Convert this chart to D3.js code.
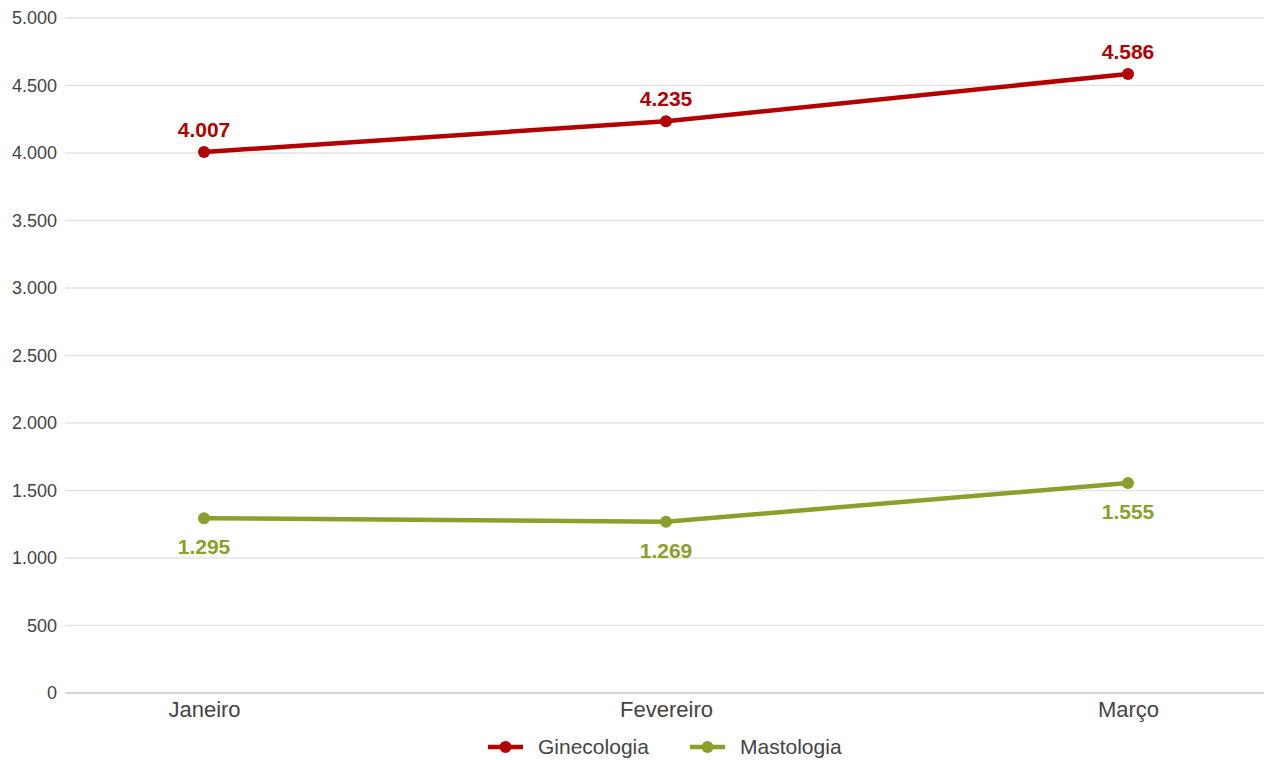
<!DOCTYPE html>
<html>
<head>
<meta charset="utf-8">
<script src="https://cdn.jsdelivr.net/npm/d3@7"></script>
<style>
  html, body { margin: 0; padding: 0; background: #fff; }
  svg { display: block; font-family: "Liberation Sans", Arial, sans-serif; }
</style>
</head>
<body>
<svg id="chart" width="1264" height="760"></svg>
<script>
// Monthly totals per specialty
const months = ["Janeiro", "Fevereiro", "Março"];
const ginecologia = [4007, 4235, 4586];
const mastologia = [1295, 1269, 1555];
const yTicks = [0, 500, 1000, 1500, 2000, 2500, 3000, 3500, 4000, 4500, 5000];

const series = [
  { name: "Ginecologia", values: ginecologia, color: "#b30000", labelPos: "above" },
  { name: "Mastologia", values: mastologia, color: "#8c9f2a", labelPos: "below" }
];

const W = 1264, H = 760;
const margin = { top: 18, right: 0, bottom: 67, left: 65 };

const svg = d3.select("#chart");

const x = d3.scalePoint()
  .domain(months)
  .range([65.4, 1266.6])
  .padding(0.3);

const y = d3.scaleLinear()
  .domain([0, 5000])
  .range([H - margin.bottom, margin.top]);

const fmt = v => d3.format(",")(v).replace(/,/g, ".");

// Horizontal gridlines
svg.append("g")
  .selectAll("line")
  .data(yTicks.filter(d => d > 0))
  .join("line")
  .attr("x1", margin.left).attr("x2", W)
  .attr("y1", d => y(d)).attr("y2", d => y(d))
  .attr("stroke", "#e3e3e3").attr("stroke-width", 1.3);

// Y axis labels
const yAxis = svg.append("g")
  .attr("transform", `translate(${margin.left},0)`)
  .call(d3.axisLeft(y).tickValues(yTicks).tickFormat(fmt).tickSize(0).tickPadding(8));
yAxis.select(".domain").remove();
yAxis.selectAll("text")
  .attr("font-size", 18).attr("fill", "#444")
  .attr("font-family", "Liberation Sans, Arial, sans-serif");

// X axis baseline and labels
const xAxis = svg.append("g")
  .attr("transform", `translate(0,${y(0)})`)
  .call(d3.axisBottom(x).tickSize(0).tickPadding(8));
xAxis.select(".domain").attr("stroke", "#c8c8c8").attr("stroke-width", 1.3)
  .attr("d", `M${margin.left},0H${W}`);
xAxis.selectAll("text")
  .attr("font-size", 22).attr("fill", "#444")
  .attr("font-family", "Liberation Sans, Arial, sans-serif")
  .attr("dy", "0.71em");

const line = d3.line()
  .x((d, i) => x(months[i]))
  .y(d => y(d));

series.forEach(s => {
  const g = svg.append("g");
  g.append("path")
    .datum(s.values)
    .attr("d", line)
    .attr("fill", "none")
    .attr("stroke", s.color)
    .attr("stroke-width", 4.5)
    .attr("stroke-linejoin", "round");
  g.selectAll("circle")
    .data(s.values)
    .join("circle")
    .attr("cx", (d, i) => x(months[i]))
    .attr("cy", d => y(d))
    .attr("r", 6)
    .attr("fill", s.color);
  g.selectAll("text")
    .data(s.values)
    .join("text")
    .attr("x", (d, i) => x(months[i]))
    .attr("y", d => s.labelPos === "above" ? y(d) - 15 : y(d) + 36)
    .attr("text-anchor", "middle")
    .attr("font-size", 21)
    .attr("font-weight", "bold")
    .attr("fill", s.color)
    .text(d => fmt(d));
});

// Legend
const legendItems = [
  { name: "Ginecologia", color: series[0].color, x: 488 },
  { name: "Mastologia", color: series[1].color, x: 690 }
];
const legend = svg.append("g").attr("transform", "translate(0,747)");
legendItems.forEach(it => {
  const g = legend.append("g").attr("transform", `translate(${it.x},0)`);
  g.append("line").attr("x1", 0).attr("x2", 35).attr("y1", 0).attr("y2", 0)
    .attr("stroke", it.color).attr("stroke-width", 4.5);
  g.append("circle").attr("cx", 17.5).attr("cy", 0).attr("r", 6).attr("fill", it.color);
  g.append("text").attr("x", 50).attr("y", 0).attr("dy", "0.35em")
    .attr("font-size", 21).attr("fill", "#444").text(it.name);
});
</script>
</body>
</html>
